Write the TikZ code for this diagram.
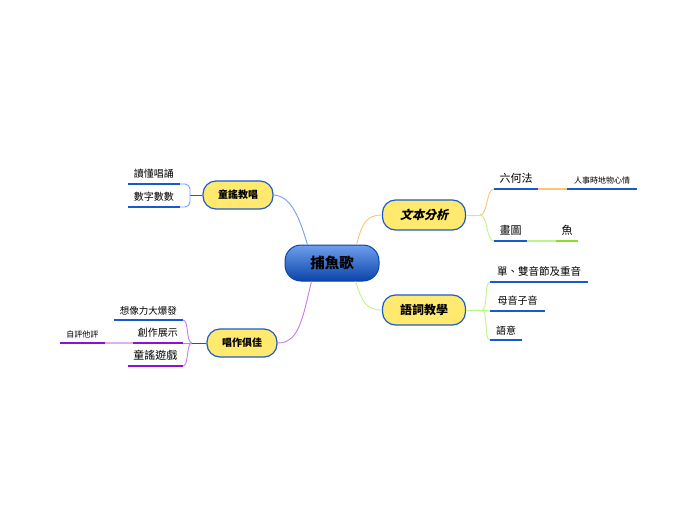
\documentclass[tikz,border=0pt]{standalone}
\usepackage{fontspec}
\setmainfont{Noto Sans CJK TC}
\newfontfamily\slantfont{Noto Sans CJK TC}[FakeSlant=0.25]
\usepackage{tikz}
\definecolor{ulblue}{HTML}{1659D0}
\definecolor{ulpurple}{HTML}{8A12D8}
\definecolor{ulgreen}{HTML}{88E02A}
\definecolor{nodeyellow}{HTML}{FFE96E}
\definecolor{nodeborder}{HTML}{1E5CCB}
\definecolor{rootlight}{HTML}{6E9EEC}
\definecolor{rootdark}{HTML}{0B44AA}
\definecolor{lnblue}{HTML}{7A9CF5}
\definecolor{lnorange}{HTML}{FFC27A}
\definecolor{lngreen}{HTML}{BDF58A}
\definecolor{lnpurple}{HTML}{C77BEA}
\newcommand{\fsz}[1]{\fontsize{#1}{#1}\selectfont}

\begin{document}
\begin{tikzpicture}[x=1pt,y=-1pt,
    root/.style={rectangle,rounded corners=16pt,draw=rootdark,line width=1pt,top color=rootlight,bottom color=rootdark,minimum width=94pt,minimum height=36pt,font=\fsz{14.5}\bfseries},
    topic/.style={rectangle,rounded corners=13pt,draw=nodeborder,line width=1.2pt,fill=nodeyellow,minimum width=70pt,minimum height=28pt,font=\fsz{10}\bfseries},
    leaf/.style={inner xsep=0pt,inner ysep=5pt,font=\fsz{10.5}},
    uline/.style={draw=ulblue,line width=2pt},
    link/.style={line width=0.9pt}]
    \fill[white] (0,0) rectangle (697,520);
    \node[root] (root) at (332,263) {捕魚歌};
    \node[topic] (tongyao) at (238,195) {童謠教唱};
    \node[topic,minimum width=83pt,minimum height=30pt,font=\fsz{12}\slantfont\bfseries] (wenben) at (424,215) {文本分析};
    \node[topic,minimum width=83pt,minimum height=30pt,font=\fsz{12}\bfseries] (yuci) at (424,310) {語詞教學};
    \node[topic] (changzuo) at (242,343) {唱作俱佳};
    \node[leaf,anchor=south east,minimum width=52pt,font=\fsz{10}] (dudong) at (180,184) {讀懂唱誦};
    \node[leaf,anchor=south east,minimum width=52pt,font=\fsz{10}] (shuzi) at (180,207) {數字數數};
    \node[leaf,anchor=south west,minimum width=44pt,font=\fsz{11}] (liuhe) at (494,189) {六何法};
    \node[leaf,anchor=south west,minimum width=70pt,font=\fsz{8}] (renshi) at (567,189) {人事時地物心情};
    \node[leaf,anchor=south west,minimum width=33pt,font=\fsz{11}] (huatu) at (494,241) {畫圖};
    \node[leaf,anchor=south west,minimum width=22pt,font=\fsz{11}] (yu) at (556,241) {魚};
    \node[leaf,anchor=south west,minimum width=98pt] (danshuang) at (490,282) {單、雙音節及重音};
    \node[leaf,anchor=south west,minimum width=55pt,font=\fsz{10}] (muyin) at (490,311) {母音子音};
    \node[leaf,anchor=south west,minimum width=32pt,font=\fsz{10}] (yuyi) at (490,340) {語意};
    \node[leaf,anchor=south east,minimum width=69pt,font=\fsz{9.5}] (xiangxiang) at (183,320) {想像力大爆發};
    \node[leaf,anchor=south east,minimum width=50pt,font=\fsz{10}] (chuangzuo) at (183,343) {創作展示};
    \node[leaf,anchor=south east,minimum width=45pt,font=\fsz{8}] (ziping) at (105,343) {自評他評};
    \node[leaf,anchor=south east,minimum width=55pt,font=\fsz{11}] (youxi) at (183,366) {童謠遊戲};
    \coordinate (tyfork) at (190,195);
    \coordinate (wbfork) at (480,215);
    \coordinate (ycfork) at (482,310);
    \coordinate (czfork) at (192,343);
    \draw[link,lnblue] (tongyao.east) .. controls (292,196) and (300,220) .. (root.143);
    \draw[link,lnorange] (root.37) .. controls (362,224) and (366,215) .. (wenben.west);
    \draw[link,lngreen] (root.322) .. controls (362,302) and (366,310) .. (yuci.west);
    \draw[link,lnpurple] (root.222) .. controls (302,322) and (298,343) .. (changzuo.east);
    \draw[link,ulblue] (tongyao.west) -- (tyfork);
    \draw[link,lnblue,rounded corners=5pt] (dudong.south east) -| (tyfork) |- (shuzi.south east);
    \draw[link,lngreen] (wenben.east) -- (wbfork);
    \draw[link,lnorange] (wbfork) .. controls +(8,0) and +(-8,0) .. (liuhe.south west);
    \draw[link,lngreen] (wbfork) .. controls +(8,0) and +(-8,0) .. (huatu.south west);
    \draw[link,lnorange,line width=1.4pt] (liuhe.south east) -- (renshi.south west);
    \draw[link,lngreen,line width=1.4pt] (huatu.south east) -- (yu.south west);
    \draw[link,lngreen] (yuci.east) -- (ycfork);
    \draw[link,lngreen] (ycfork) .. controls +(6,0) and +(-6,0) .. (danshuang.south west);
    \draw[link,lngreen] (ycfork) -- (muyin.south west);
    \draw[link,lngreen] (ycfork) .. controls +(6,0) and +(-6,0) .. (yuyi.south west);
    \draw[link,ulpurple] (changzuo.west) -- (czfork);
    \draw[link,lnpurple] (czfork) .. controls +(-6,0) and +(6,0) .. (xiangxiang.south east);
    \draw[link,lnpurple] (czfork) -- (chuangzuo.south east);
    \draw[link,lnpurple] (czfork) .. controls +(-6,0) and +(6,0) .. (youxi.south east);
    \draw[link,lnpurple!60,line width=1.4pt] (chuangzuo.south west) -- (ziping.south east);
    \draw[uline] (dudong.south west) -- (dudong.south east);
    \draw[uline] (shuzi.south west) -- (shuzi.south east);
    \draw[uline] (liuhe.south west) -- (liuhe.south east);
    \draw[uline] (renshi.south west) -- (renshi.south east);
    \draw[uline] (huatu.south west) -- (huatu.south east);
    \draw[uline,draw=ulgreen] (yu.south west) -- (yu.south east);
    \draw[uline] (danshuang.south west) -- (danshuang.south east);
    \draw[uline] (muyin.south west) -- (muyin.south east);
    \draw[uline] (yuyi.south west) -- (yuyi.south east);
    \draw[uline] (xiangxiang.south west) -- (xiangxiang.south east);
    \draw[uline,draw=ulpurple] (chuangzuo.south west) -- (chuangzuo.south east);
    \draw[uline,draw=ulpurple] (ziping.south west) -- (ziping.south east);
    \draw[uline,draw=ulpurple] (youxi.south west) -- (youxi.south east);
\end{tikzpicture}
\end{document}
